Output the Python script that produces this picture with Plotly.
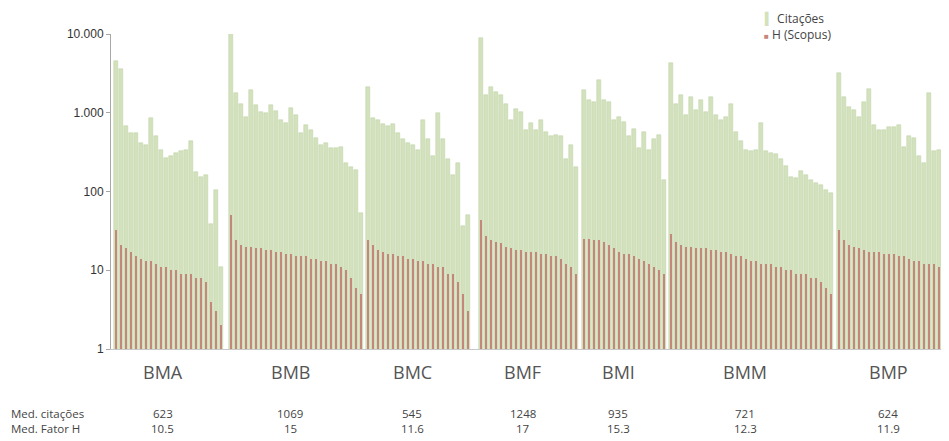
import plotly.graph_objects as go

groups = ["BMA", "BMB", "BMC", "BMF", "BMI", "BMM", "BMP"]

cit_BMA = [4550, 3570, 673, 555, 555, 412, 393, 862, 502, 339, 266, 279, 308, 323, 339, 433, 179, 155, 163, 39, 105, 11]
h_BMA = [32, 21, 19, 17, 15, 14, 13, 13, 12, 11, 11, 10, 10, 9, 9, 9, 8, 8, 7, 4, 3, 2]

cit_BMB = [10500, 1760, 1310, 888, 1935, 1250, 1027, 980, 1250, 1050, 805, 731, 1133, 933, 546, 696, 601, 472, 388, 408, 352, 352, 370, 227, 206, 187, 53]
h_BMB = [50, 24, 21, 20, 20, 19, 19, 18, 18, 17, 17, 16, 16, 15, 15, 15, 14, 14, 13, 13, 12, 12, 11, 10, 8, 6, 5]

cit_BMC = [2130, 850, 820, 730, 670, 730, 550, 460, 410, 390, 340, 800, 470, 280, 1000, 460, 260, 160, 230, 37, 50]
h_BMC = [24, 21, 18, 17, 16, 16, 15, 15, 14, 14, 13, 13, 12, 12, 11, 11, 9, 9, 7, 5, 3]

cit_BMF = [8770, 1670, 2130, 1840, 1670, 1310, 805, 1130, 1030, 600, 731, 600, 805, 575, 500, 525, 500, 260, 390, 206]
h_BMF = [44, 27, 24, 23, 22, 20, 19, 18, 18, 17, 17, 17, 16, 16, 15, 15, 14, 12, 11, 9]

cit_BMI = [1935, 1445, 1380, 2590, 1445, 1380, 805, 888, 770, 500, 630, 352, 575, 340, 460, 525, 140]
h_BMI = [25, 25, 24, 24, 23, 21, 19, 17, 16, 16, 15, 14, 13, 12, 11, 10, 9]

cit_BMM = [4230, 1310, 1670, 933, 1600, 1080, 1445, 1030, 1600, 933, 805, 888, 1310, 575, 440, 340, 325, 340, 731, 325, 310, 300, 260, 210, 155, 150, 180, 160, 140, 130, 120, 105, 95]
h_BMM = [29, 23, 21, 20, 20, 19, 19, 19, 18, 18, 17, 17, 16, 15, 15, 14, 13, 13, 12, 12, 12, 11, 11, 10, 10, 9, 9, 9, 8, 8, 7, 6, 5]

cit_BMP = [3160, 1590, 1190, 1080, 888, 1380, 2030, 696, 601, 601, 660, 660, 696, 370, 500, 480, 283, 227, 1760, 325, 340, 160, 20]
h_BMP = [32, 24, 21, 20, 19, 18, 17, 17, 17, 16, 16, 16, 15, 15, 14, 13, 13, 12, 12, 12, 11, 10, 10]

med_citacoes = ["623", "1069", "545", "1248", "935", "721", "624"]
med_fator_h = ["10.5", "15", "11.6", "17", "15.3", "12.3", "11.9"]

y_tickvals = [1, 10, 100, 1000, 10000]
y_ticktext = ["1", "10", "100", "1.000", "10.000"]

citations = [cit_BMA, cit_BMB, cit_BMC, cit_BMF, cit_BMI, cit_BMM, cit_BMP]
hindex = [h_BMA, h_BMB, h_BMC, h_BMF, h_BMI, h_BMM, h_BMP]

# layout: spacing (in bar slots) before each group's first bar
group_gap = [0, 2, 1.4, 2.6, 1.6, 1.4, 1.6]

xs, cs, hs, centers = [], [], [], []
pos = 0
for gi, (c, h) in enumerate(zip(citations, hindex)):
    start = pos + group_gap[gi] if gi > 0 else 0
    gx = [start + i for i in range(len(c))]
    xs += gx
    cs += c
    hs += h
    centers.append((gx[0] + gx[-1]) / 2 - 1.2)
    pos = gx[-1]

GREEN = "#d3e2bd"
RED = "#c6877b"

fig = go.Figure()
fig.add_trace(go.Bar(x=xs, y=cs, name="Citações", width=0.62, showlegend=False,
                     marker=dict(color=GREEN, line=dict(color="#bdd0a0", width=0.5))))
fig.add_trace(go.Bar(x=xs, y=hs, name="H (Scopus)", width=0.46, showlegend=False,
                     marker=dict(color=RED, line=dict(width=0))))

font_txt = "Open Sans, Segoe UI, sans-serif"
ann = []
for gi, g in enumerate(groups):
    ann.append(dict(x=centers[gi], y=0, xref="x", yref="paper", yshift=-23, text=g,
                    showarrow=False, yanchor="middle", font=dict(family=font_txt, size=18, color="#555555")))
    ann.append(dict(x=centers[gi], y=0, xref="x", yref="paper", yshift=-64, text=med_citacoes[gi],
                    showarrow=False, yanchor="middle", font=dict(family=font_txt, size=11.5, color="#444444")))
    ann.append(dict(x=centers[gi], y=0, xref="x", yref="paper", yshift=-79, text=med_fator_h[gi],
                    showarrow=False, yanchor="middle", font=dict(family=font_txt, size=11.5, color="#444444")))
ann.append(dict(x=0, y=0, xref="paper", yref="paper", xshift=-102, yshift=-64, text="Med. citações",
                showarrow=False, xanchor="left", yanchor="middle", font=dict(family=font_txt, size=11.5, color="#444444")))
ann.append(dict(x=0, y=0, xref="paper", yref="paper", xshift=-102, yshift=-79, text="Med. Fator H",
                showarrow=False, xanchor="left", yanchor="middle", font=dict(family=font_txt, size=11.5, color="#444444")))
# legend (as text with coloured glyphs)
ann.append(dict(x=0.777, y=1.0, xref="paper", yref="paper", yshift=26, xanchor="left", yanchor="top",
                showarrow=False, text=f'<span style="color:{GREEN}">▍</span> Citações',
                font=dict(family=font_txt, size=12, color="#444444")))
ann.append(dict(x=0.777, y=1.0, xref="paper", yref="paper", yshift=10, xanchor="left", yanchor="top",
                showarrow=False, text=f'<span style="color:{RED};font-size:8px">■</span> H (Scopus)',
                font=dict(family=font_txt, size=12, color="#444444")))

fig.update_layout(
    width=941, height=433,
    margin=dict(l=103, r=0, t=26, b=92),
    barmode="overlay", bargap=0,
    plot_bgcolor="white", paper_bgcolor="white",
    showlegend=False,
    annotations=ann,
    xaxis=dict(range=[-1, 166.6], showgrid=False, zeroline=False, showticklabels=False,
               showline=True, linecolor="#c8c8c8", ticks=""),
    yaxis=dict(type="log", range=[0, 4], tickvals=y_tickvals, ticktext=y_ticktext,
               showgrid=False, zeroline=False, showline=True, linecolor="#a8a8a8", linewidth=1,
               ticks="outside", ticklen=4, tickcolor="#a8a8a8",
               tickfont=dict(family="Arial, Liberation Sans, sans-serif", size=12, color="#333333")),
)

fig.write_html("out.html")
